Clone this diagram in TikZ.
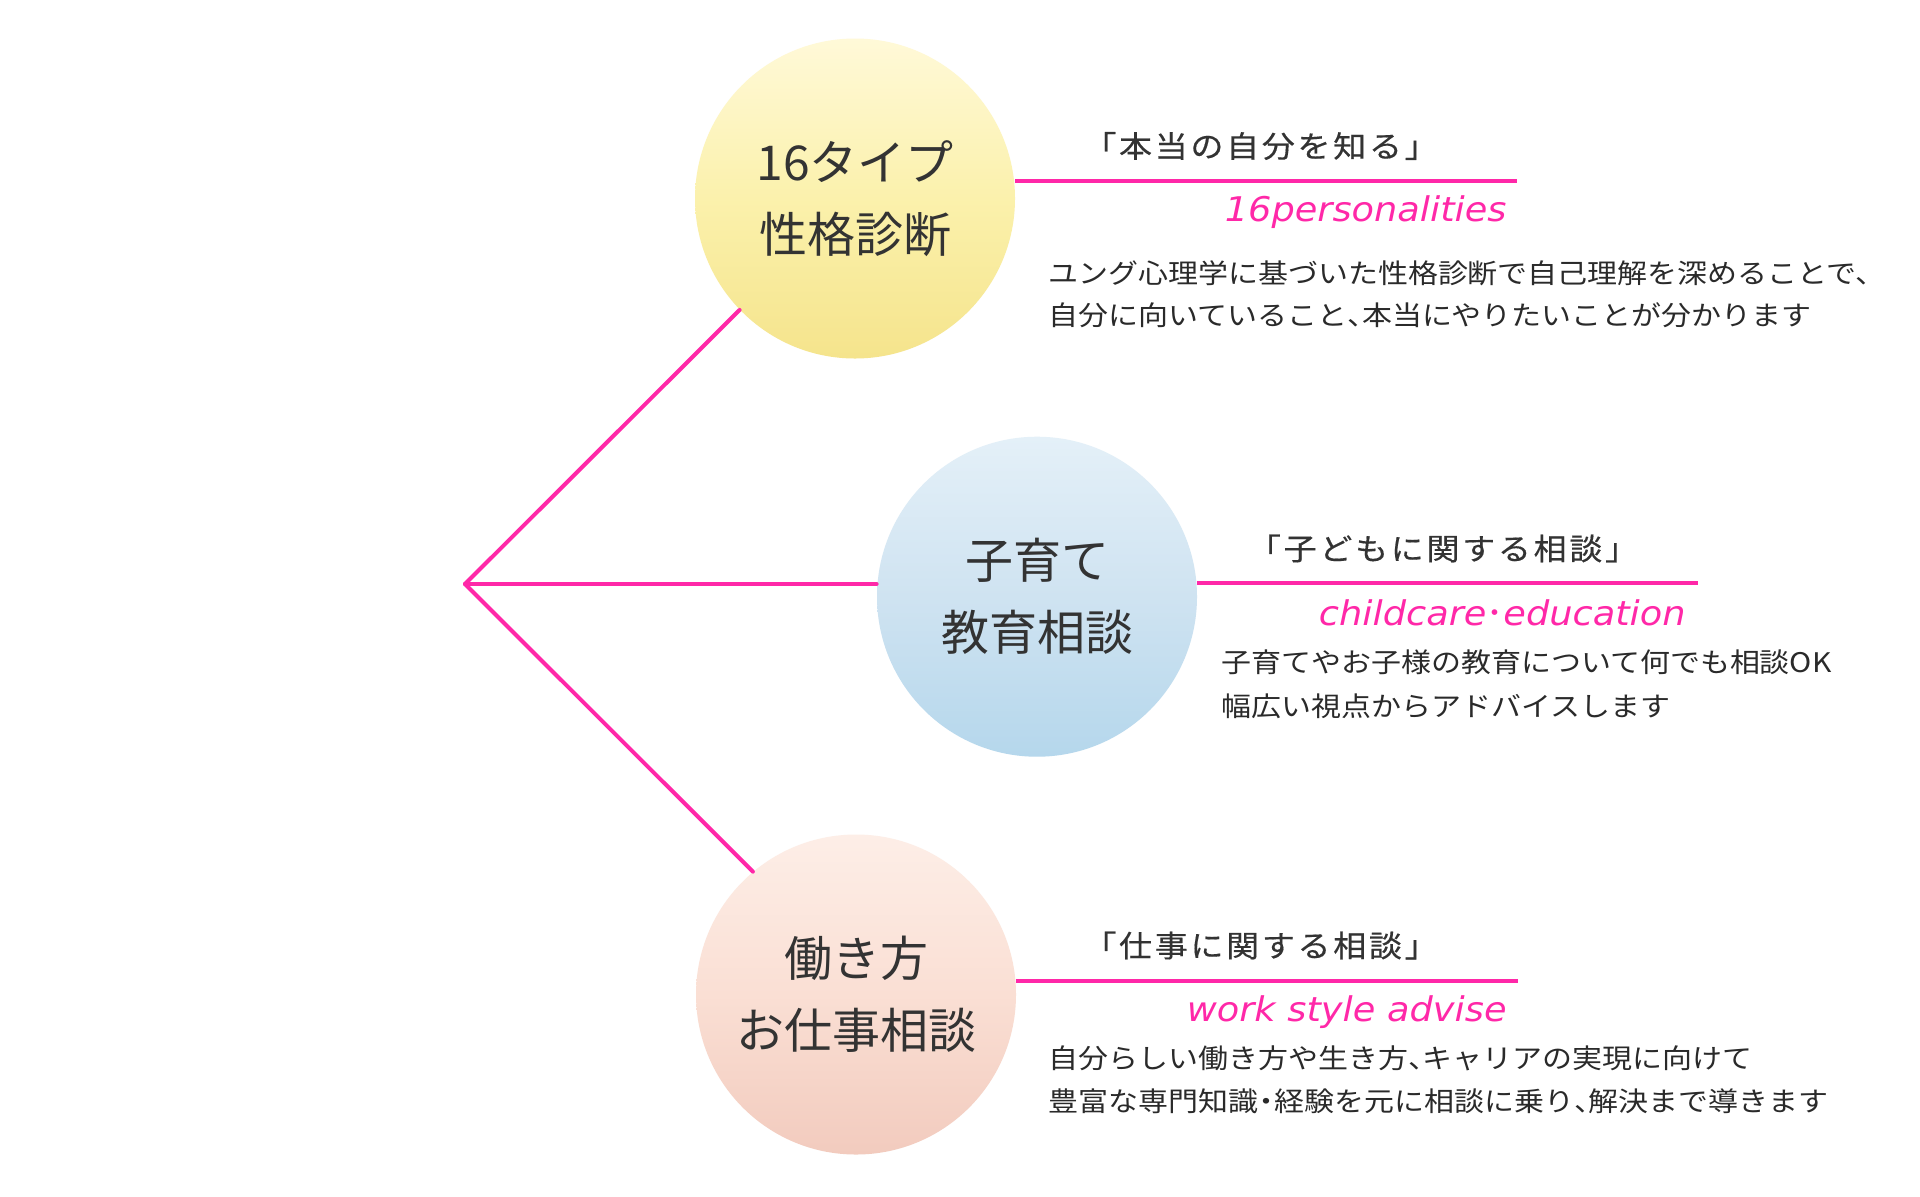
\documentclass[tikz,border=0pt]{standalone}
\usepackage{fontspec}
\newfontfamily\cjk{Noto Sans CJK JP}
\newfontfamily\cjkhead[FakeStretch=1.1,LetterSpace=9,FakeBold=0.4]{Noto Sans CJK JP}
\newfontfamily\cjkbody[FakeStretch=1.11]{Noto Sans CJK JP}
\newfontfamily\subfont[FakeStretch=1.08]{DejaVu Sans}
\newcommand\hcomma{\makebox[0.55em][l]{、}}
\newcommand\hdot{\makebox[0.6em]{・}}
\definecolor{pinkline}{HTML}{FF28A8}
\definecolor{inkgray}{HTML}{333333}
\definecolor{bodyink}{HTML}{2A2A2A}
\definecolor{yTop}{HTML}{FFF9D8}
\definecolor{yMid}{HTML}{FBF1AC}
\definecolor{yBot}{HTML}{F5E48C}
\definecolor{bTop}{HTML}{E4F0F8}
\definecolor{bMid}{HTML}{CFE3F1}
\definecolor{bBot}{HTML}{B5D7EC}
\definecolor{pTop}{HTML}{FDEEE7}
\definecolor{pMid}{HTML}{FADFD4}
\definecolor{pBot}{HTML}{F2CBBE}
\begin{document}
\begin{tikzpicture}[x=0.5pt,y=-0.5pt,
  bubble/.style={circle, minimum size=160pt, inner sep=0pt, draw=none, align=center,
    text=inkgray, font=\cjk\fontsize{24pt}{36pt}\selectfont},
  head/.style={inner sep=0pt, text=inkgray, font=\cjkhead\fontsize{15pt}{18pt}\selectfont},
  subt/.style={inner sep=0pt, anchor=base east, text=pinkline,
    font=\subfont\itshape\fontsize{17pt}{20pt}\selectfont},
  bodytext/.style={inner sep=0pt, anchor=west, text=bodyink,
    font=\cjkbody\fontsize{13.5pt}{16pt}\selectfont},
  link/.style={draw=pinkline, line width=2pt}]
\useasboundingbox (0,0) rectangle (1920,1196);
\fill[white] (0,0) rectangle (1920,1196);

% circles
\node[bubble, top color=yTop, bottom color=yBot, middle color=yMid] (c1) at (855,198.5) {16タイプ\\性格診断};
\node[bubble, top color=bTop, bottom color=bBot, middle color=bMid] (c2) at (1037,596.7) {子育て\\教育相談};
\node[bubble, top color=pTop, bottom color=pBot, middle color=pMid] (c3) at (856,994.5) {働き方\\お仕事相談};

% hub connectors
\coordinate (hub) at (465,584);
\draw[link, line cap=round] (hub) -- (c1.224);
\draw[link, line cap=round] (hub) -- (c2.west |- hub);
\draw[link, line cap=round] (hub) -- (c3.130);

% right underlines
\coordinate (r1) at (1517,181);
\coordinate (r2) at (1698,583.3);
\coordinate (r3) at (1518,980.7);
\draw[link] (c1.east |- r1) -- (r1);
\draw[link] (c2.east |- r2) -- (r2);
\draw[link] (c3.east |- r3) -- (r3);

% headings
\node[head] (h1) at (1260.5,146) {「本当の自分を知る」};
\node[head] (h2) at (1443,548.5) {「子どもに関する相談」};
\node[head] (h3) at (1260.5,945.5) {「仕事に関する相談」};

% subtitles
\node[subt] (s1) at (1507,221.7) {16personalities};
\node[subt] (s2) at (1686,625) {childcare{\cjk ･}education};
\node[subt] (s3) at (1507,1021.7) {work style advise};

% body text
\node[bodytext] (b1a) at (1048,273) {ユング心理学に基づいた性格診断で自己理解を深めることで、};
\node[bodytext] (b1b) at (1048,315) {自分に向いていること\hcomma 本当にやりたいことが分かります};
\node[bodytext] (b2a) at (1221,662.5) {子育てやお子様の教育について何でも相談OK};
\node[bodytext] (b2b) at (1221,706) {幅広い視点からアドバイスします};
\node[bodytext] (b3a) at (1048,1058) {自分らしい働き方や生き方\hcomma キャリアの実現に向けて};
\node[bodytext] (b3b) at (1048,1101) {豊富な専門知識\hdot 経験を元に相談に乗り\hcomma 解決まで導きます};
\end{tikzpicture}
\end{document}
